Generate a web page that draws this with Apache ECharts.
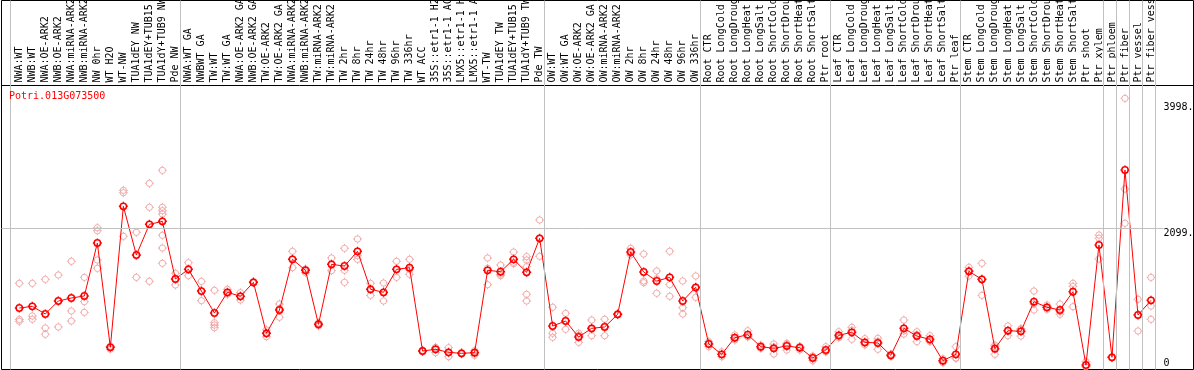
<!DOCTYPE html>
<html><head><meta charset="utf-8">
<script src="https://cdn.jsdelivr.net/npm/echarts@6/dist/echarts.min.js"></script>
<style>html,body{margin:0;padding:0;background:#fff}#c{width:1194px;height:370px}</style>
</head><body><div id="c"></div>
<script>
const geneId = 'Potri.013G073500';

const categories = [
'NWA:WT','NWB:WT','NWA:OE-ARK2','NWB:OE-ARK2','NWA:miRNA-ARK2','NWB:miRNA-ARK2','NW 0hr','WT H2O','WT-NW','TUA1dEY NW','TUA1dEY+TUB15 NW','TUA1dY+TUB9 NW','Pde NW',
'NWA:WT GA','NWBWT GA','TW:WT','TW:WT GA','NWA:OE-ARK2 GA','NWB:OE-ARK2 GA','TW:OE-ARK2','TW:OE-ARK2 GA','NWA:miRNA-ARK2 GA','NWB:miRNA-ARK2 GA','TW:miRNA-ARK2','TW:miRNA-ARK2 GA','TW 2hr','TW 8hr','TW 24hr','TW 48hr','TW 96hr','TW 336hr','WT ACC','35S::etr1-1 H2O','35S::etr1-1 ACC','LMX5::etr1-1 H2O','LMX5::etr1-1 ACC','WT-TW','TUA1dEY TW','TUA1dEY+TUB15 TW','TUA1dY+TUB9 TW','Pde TW',
'OW:WT','OW:WT GA','OW:OE-ARK2','OW:OE-ARK2 GA','OW:miRNA-ARK2','OW:miRNA-ARK2 GA','OW 2hr','OW 8hr','OW 24hr','OW 48hr','OW 96hr','OW 336hr',
'Root CTR','Root LongCold','Root LongDrought','Root LongHeat','Root LongSalt','Root ShortCold','Root ShortDrought','Root ShortHeat','Root ShortSalt','Ptr root',
'Leaf CTR','Leaf LongCold','Leaf LongDrought','Leaf LongHeat','Leaf LongSalt','Leaf ShortCold','Leaf ShortDrought','Leaf ShortHeat','Leaf ShortSalt','Ptr leaf',
'Stem CTR','Stem LongCold','Stem LongDrought','Stem LongHeat','Stem LongSalt','Stem ShortCold','Stem ShortDrought','Stem ShortHeat','Stem ShortSalt','Ptr shoot','Ptr xylem',
'Ptr phloem','Ptr fiber','Ptr vessel','Ptr fiber vessel'
];

const means = [
904, 929, 814, 1010, 1055, 1085, 1884, 312, 2437, 1703, 2165, 2210, 1341,
1487, 1160, 829, 1141, 1081, 1291, 523, 874, 1638, 1472, 658, 1562, 1537, 1759, 1186, 1141, 1487, 1512, 256, 282, 236, 221, 231, 1472, 1452, 1638, 1442, 1954,
633, 708, 467, 598, 618, 809, 1748, 1447, 1311, 1366, 1010, 1216,
362, 206, 457, 502, 321, 297, 332, 306, 151, 271,
493, 538, 387, 377, 191, 598, 482, 432, 110, 206,
1457, 1336, 291, 562, 553, 1000, 915, 874, 1150, 45, 1854,
161, 2984, 799, 1020
];

const replicates = [
[1276,704,732],[1276,784,734],[1336,603,508],[1401,618,1011],[1608,859,708],[1366,1000,839],
[2114,2069,1628,1502],[330,282,320],[2678,2642,1985],[2045,1366,1698],[2783,2422,1306],
[2979,2422,2371,2320,2000,1808,1578],[1427,1251,1345],
[1587,1391,1483],[1306,1015,1160],[1171,683,648,608],[1186,1111,1126],[1135,1025,1083],[1301,1290,1283],
[573,472,523],[964,764,894],[1759,1512,1643],[1492,1437,1487],[680,635,660],[1658,1467,1561],
[1804,1472,1291],[1944,1638,1695],[1276,1095,1186],[1281,1010,1132],[1608,1366,1487],[1638,1412,1486],
[266,248,254],[306,231,309],[306,171,231],[230,212,221],[261,191,241],[1658,1256,1502],[1552,1391,1413],
[1748,1572,1594],[1678,1628,1527,1111,1010,1442],[2230,1683,1949],
[915,523,463],[824,583,717],[523,387,491],[723,487,584],[734,487,633],[820,800,807],[1804,1703,1737],
[1718,1311,1286],[1462,1126,1345],[1759,1256,1081],[1311,909,814],[1386,1065,1197],
[397,321,368],[171,246,201],[497,422,452],[562,472,472],[347,297,319],[362,211,318],[372,271,353],
[321,271,326],[181,110,162],[321,246,246],
[547,457,475],[613,432,569],[442,347,372],[447,282,402],[211,176,186],[723,512,559],[547,397,502],
[487,397,412],[80,140,110],[321,146,151],
[1517,1386,1468],[1578,1095,1335],[347,206,320],[633,487,566],[583,482,594],[1160,874,966],[949,884,912],
[964,809,849],[1276,1230,924],[95,20,20],[2004,1955,1643],
[170,155,158],[4064,2698,2181],[1035,558,804],[1366,934,734]
];

// last category index of each group (−1 = before the first one)
const groupEnds = [-1, 12, 40, 52, 62, 72, 83, 84, 85, 86, 87];

const yTickValues = [0, 2099, 3998];
const yTickLabels = ['0', '2099.', '3998.'];
const gridLineValue = 2099;

// ---------- layout ----------
const FONT = 'DejaVu Sans Mono';
const W = 1194;
const GRID_L = 1.5, GRID_R = 0.5, GRID_T = 0.5, GRID_B = 0.5;
const PX_X = 13.008;           // px per category
const FIRST_X = 19.3;          // px of first category
const X_MIN = -(FIRST_X - GRID_L) / PX_X;
const X_MAX = X_MIN + (W - GRID_L - GRID_R) / PX_X;
const PX_Y = 0.06635;          // px per unit
const ZERO_Y = 368;
const Y_MIN = -((370 - GRID_B) - ZERO_Y) / PX_Y;
const Y_MAX = (ZERO_Y - GRID_T) / PX_Y;
const LABEL_MARGIN = 30;

const MARK = 'path://M5,0L5,1.5M5,8.5L5,10M0,5L1.5,5M8.5,5L10,5M1.5,5A3.5,3.5,0,1,1,8.5,5A3.5,3.5,0,1,1,1.5,5Z';

const repData = [];
replicates.forEach((arr, i) => arr.forEach(v => repData.push([i, v])));
const meanData = means.map((v, i) => [i, v]);

const chart = echarts.init(document.getElementById('c'), null, {renderer: 'canvas'});
const yLabelBase = {
  inside: true, margin: LABEL_MARGIN, align: 'left',
  fontFamily: FONT, fontSize: 10, color: '#000',
  formatter: v => yTickLabels[yTickValues.indexOf(v)]
};
chart.setOption({
  animation: false,
  title: {
    text: geneId, left: 9, top: 91, padding: 0,
    textStyle: {color: '#ff0000', fontFamily: FONT, fontSize: 10, fontWeight: 'normal'}
  },
  grid: {
    left: GRID_L, right: GRID_R, top: GRID_T, bottom: GRID_B,
    outerBoundsMode: 'none', containLabel: false,
    show: true, borderColor: '#000', borderWidth: 1, backgroundColor: 'transparent'
  },
  xAxis: {
    type: 'value', position: 'top', offset: -85, min: X_MIN, max: X_MAX,
    axisLine: {show: true, onZero: false, lineStyle: {color: '#000', width: 1}},
    axisTick: {show: false}, splitLine: {show: false},
    axisLabel: {
      customValues: categories.map((_, i) => i),
      formatter: v => categories[v] || '',
      rotate: -90, margin: 3, fontFamily: FONT, fontSize: 10, color: '#000'
    }
  },
  yAxis: [
    {
      type: 'value', position: 'right', min: Y_MIN, max: Y_MAX,
      axisLine: {show: false}, axisTick: {show: false}, splitLine: {show: false},
      axisLabel: Object.assign({}, yLabelBase, {verticalAlign: 'top', customValues: yTickValues.filter(v => v > 0)})
    },
    {
      type: 'value', position: 'right', min: Y_MIN, max: Y_MAX,
      axisLine: {show: false}, axisTick: {show: false}, splitLine: {show: false},
      axisLabel: Object.assign({}, yLabelBase, {verticalAlign: 'bottom', customValues: yTickValues.filter(v => v === 0)})
    }
  ],
  series: [
    {
      type: 'scatter', data: repData, symbol: MARK, symbolSize: 9, z: 2, silent: true,
      itemStyle: {color: 'rgba(0,0,0,0)', borderColor: '#ee9a9a', borderWidth: 1},
      markLine: {
        silent: true, symbol: ['none', 'none'], label: {show: false},
        lineStyle: {color: '#c0c0c0', width: 1, type: 'solid'},
        data: groupEnds.map(e => ({xAxis: e + 0.34})).concat([
          [{coord: [X_MIN, gridLineValue]}, {coord: [X_MAX - LABEL_MARGIN / PX_X, gridLineValue]}]
        ])
      }
    },
    {
      type: 'line', data: meanData, symbol: MARK, symbolSize: 9, showAllSymbol: true, z: 3, silent: true,
      lineStyle: {color: '#ff0000', width: 1},
      itemStyle: {color: 'rgba(0,0,0,0)', borderColor: '#ff0000', borderWidth: 1.5}
    }
  ]
});
</script></body></html>
